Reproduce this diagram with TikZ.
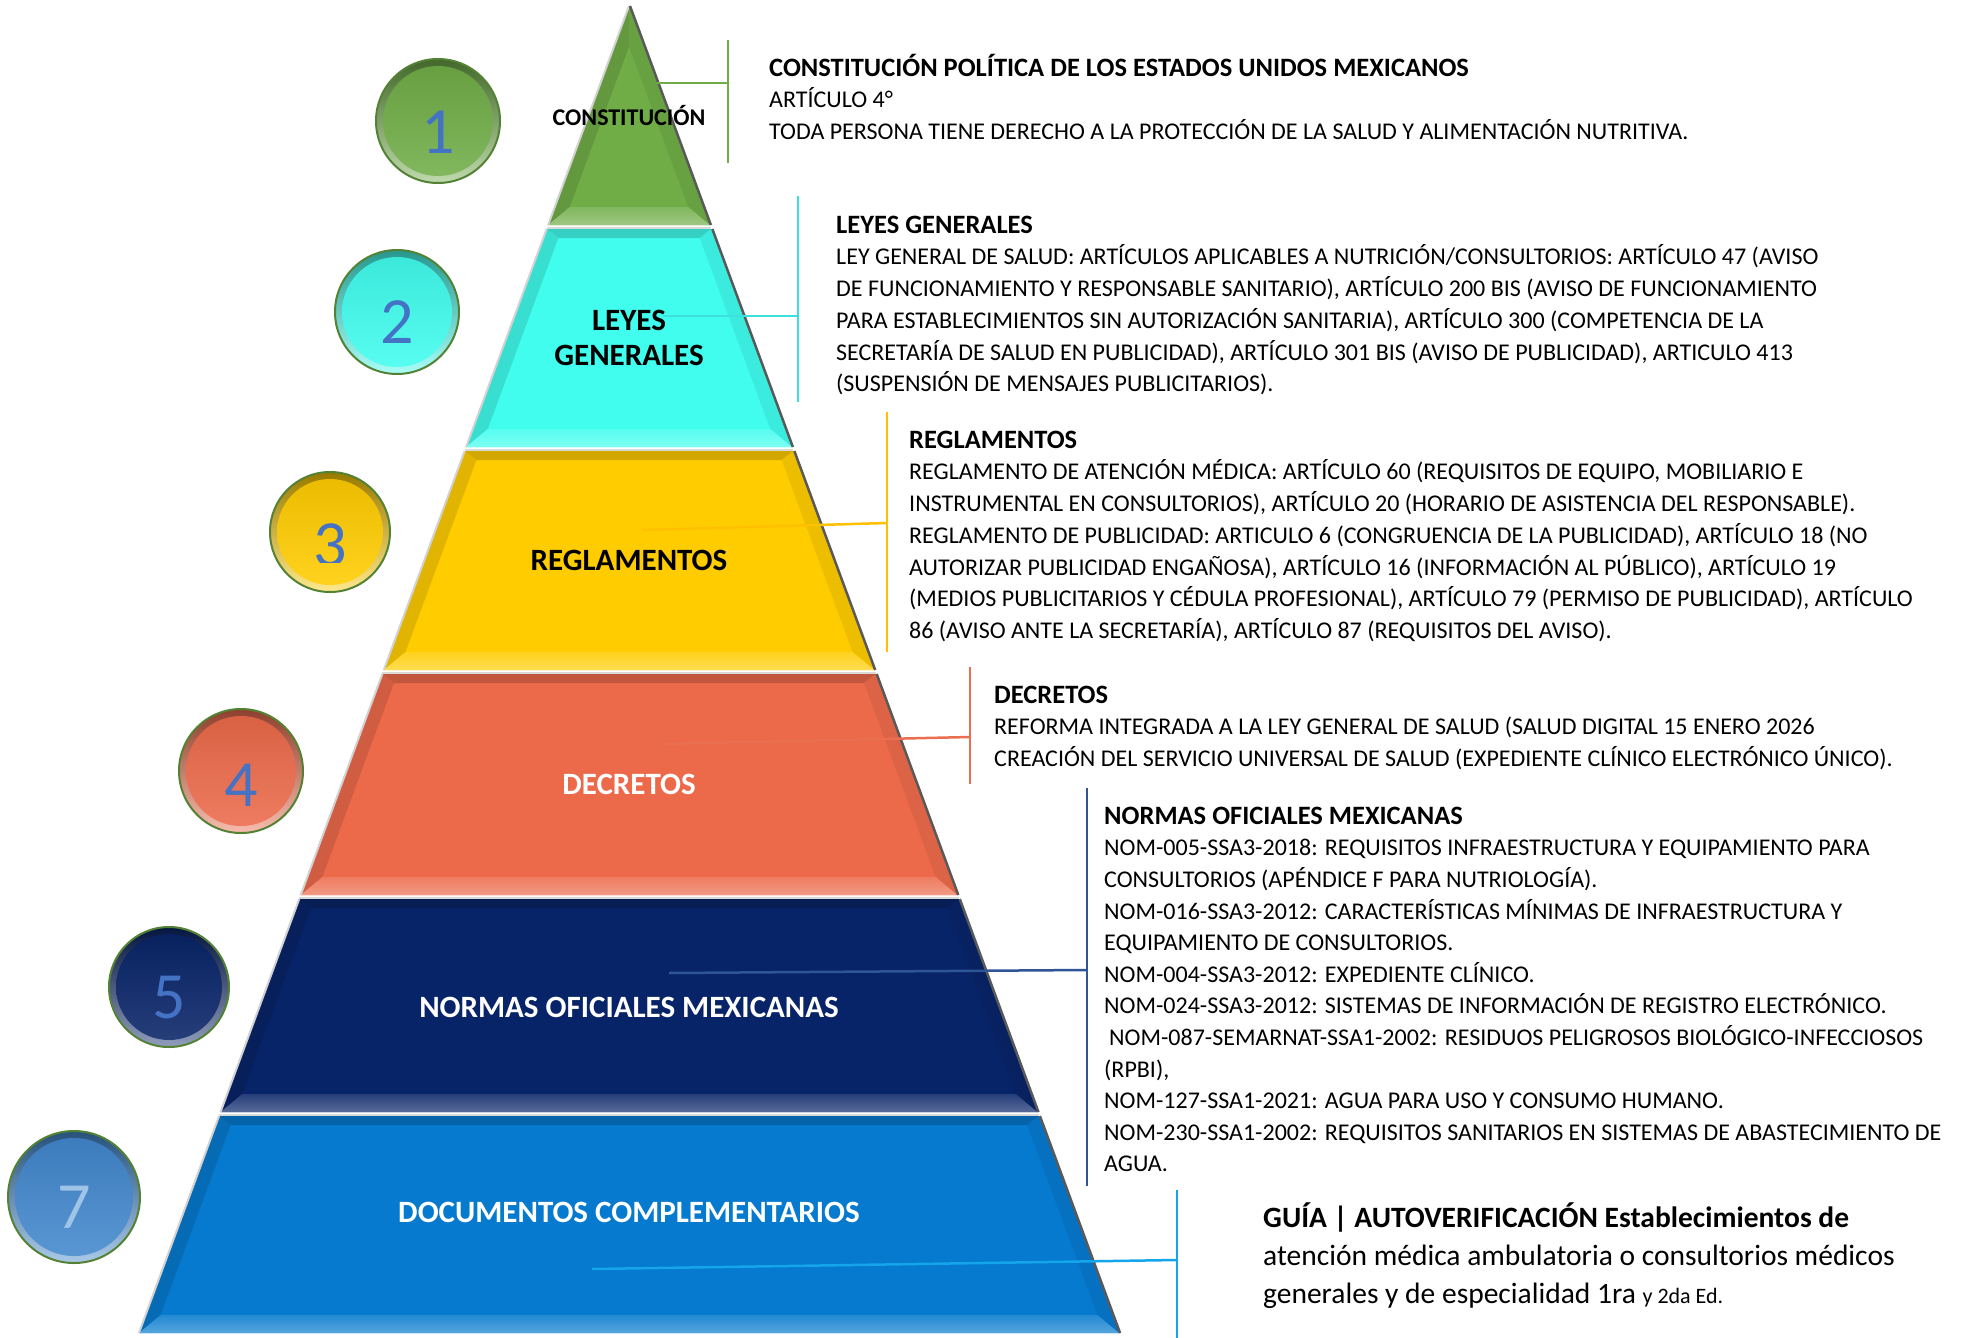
\documentclass[tikz,border=0pt]{standalone}
\usepackage{fontspec}
\setmainfont{Carlito}
\definecolor{cgreen}{RGB}{112,173,71}
\definecolor{ccyan}{RGB}{64,253,238}
\definecolor{cyellow}{RGB}{255,204,0}
\definecolor{corange}{RGB}{236,106,74}
\definecolor{cnavy}{RGB}{8,36,104}
\definecolor{cblue}{RGB}{6,122,206}
\definecolor{cblueball}{RGB}{66,135,205}
\definecolor{numblue}{RGB}{68,114,196}
\definecolor{numlight}{RGB}{160,195,232}
\definecolor{rimgreen}{RGB}{84,130,53}
\definecolor{lgreen}{RGB}{112,173,71}
\definecolor{lcyan}{RGB}{60,225,222}
\definecolor{lyellow}{RGB}{255,192,0}
\definecolor{lorange}{RGB}{234,110,80}
\definecolor{lnavy}{RGB}{47,85,151}
\definecolor{lblue}{RGB}{20,165,235}
\newcommand{\blocktitle}[1]{{\fontsize{26.5}{31.7}\selectfont\bfseries #1}}
\begin{document}
\begin{tikzpicture}[x=1pt,y=-1pt,
  bodytext/.style={font=\fontsize{24}{31.7}\selectfont, align=left, anchor=north west, inner sep=0pt},
  lbl/.style={font=\bfseries\fontsize{31}{35}\selectfont, inner sep=0pt, anchor=base},
  num/.style={font=\fontsize{66}{66}\selectfont, inner sep=0pt, anchor=base, text=numblue},
  conn/.style={line width=2.5pt}]
\useasboundingbox (0,0) rectangle (1968,1338);
\fill[white] (0,0) rectangle (1968,1338);

% ---------- pyramid layers ----------
\foreach \ya/\yb/\col in {6/225/cgreen, 229/447/ccyan, 451/670/cyellow, 674/895/corange, 899/1112/cnavy, 1116/1333/cblue}{
  \pgfmathsetmacro\hA{0.3693*(\ya-6)}
  \pgfmathsetmacro\hB{0.3693*(\yb-6)}
  \pgfmathsetmacro\yi{max(\ya+9,47)}
  \pgfmathsetmacro\yj{\yb-18}
  \pgfmathsetmacro\hI{max(0.3693*(\yi-6)-15,0)}
  \pgfmathsetmacro\hJ{0.3693*(\yj-6)-15}
  \fill[\col] (629-\hA,\ya) -- (629+\hA,\ya) -- (629+\hB,\yb) -- (629-\hB,\yb) -- cycle;
  \fill[\col!82!black] (629-\hA,\ya) -- (629+\hA,\ya) -- (629+\hI,\yi) -- (629-\hI,\yi) -- cycle;
  \fill[\col!88!black] (629-\hA,\ya) -- (629-\hI,\yi) -- (629-\hJ,\yj) -- (629-\hB,\yb) -- cycle;
  \fill[\col!93!black] (629+\hA,\ya) -- (629+\hI,\yi) -- (629+\hJ,\yj) -- (629+\hB,\yb) -- cycle;
  \shade[top color=\col!88!white, bottom color=\col!68!white] (629-\hJ,\yj) -- (629+\hJ,\yj) -- (629+\hB,\yb) -- (629-\hB,\yb) -- cycle;
  \draw[gray!35, line width=2pt] (629-\hA,\ya) -- (629-\hB,\yb);
  \draw[black!65, line width=2.5pt] (629+\hA+1,\ya) -- (629+\hB+1,\yb);
  \draw[gray!30, line width=1.5pt] (629-\hA,\ya-1) -- (629+\hA,\ya-1);
}

% ---------- numbered discs ----------
\foreach \cx/\cy/\r/\col in {438/121/62/cgreen, 397/312/62/ccyan, 330/532/60/cyellow, 241/771/62/corange, 169/987/60/cnavy, 74/1197/66/cblueball}{
  \shade[top color=\col!60!black, bottom color=\col!45!white] (\cx,\cy) circle[radius=\r];
  \shade[top color=\col!92!black, bottom color=\col!88!white] (\cx,\cy) circle[radius=\r-7];
  \draw[rimgreen, line width=2pt] (\cx,\cy) circle[radius=\r];
}
\node[num] (n1) at (438,153) {1};
\node[num] (n2) at (397,343) {2};
\begin{scope}
  \clip (250,440) rectangle (420,562);
  \node[num] (n3) at (330,566) {3};
\end{scope}
\node[num] (n4) at (241,806) {4};
\node[num] (n5) at (169,1018) {5};
\node[num, text=numlight] (n7) at (74,1228) {7};

% ---------- connectors ----------
\coordinate (g0) at (657,83);   \coordinate (g1) at (728,83);
\coordinate (g2) at (728,40);   \coordinate (g3) at (728,163);
\coordinate (c0) at (663,316);  \coordinate (c1) at (798,316);
\coordinate (c2) at (798,196);  \coordinate (c3) at (798,402);
\coordinate (y0) at (643,530);  \coordinate (y1) at (887,523);
\coordinate (y2) at (887,412);  \coordinate (y3) at (887,652);
\coordinate (o0) at (663,744);  \coordinate (o1) at (970,737);
\coordinate (o2) at (970,667);  \coordinate (o3) at (970,784);
\coordinate (v0) at (669,973);  \coordinate (v1) at (1087,970);
\coordinate (v2) at (1087,788); \coordinate (v3) at (1087,1186);
\coordinate (b0) at (592,1269); \coordinate (b1) at (1177,1260);
\coordinate (b2) at (1177,1190);\coordinate (b3) at (1177,1338);
\draw[conn, lgreen] (g0) -- (g1); \draw[conn, lgreen] (g2) -- (g3);
\draw[conn, lcyan] (c0) -- (c1); \draw[conn, lcyan] (c2) -- (c3);
\draw[conn, lyellow] (y0) -- (y1); \draw[conn, lyellow] (y2) -- (y3);
\draw[conn, lorange] (o0) -- (o1); \draw[conn, lorange] (o2) -- (o3);
\draw[conn, lnavy] (v0) -- (v1); \draw[conn, lnavy] (v2) -- (v3);
\draw[conn, lblue] (b0) -- (b1); \draw[conn, lblue] (b2) -- (b3);

% ---------- layer labels ----------
\node[lbl, font=\bfseries\fontsize{24}{28}\selectfont] (l1) at (629,125) {CONSTITUCIÓN};
\node[lbl] (l2a) at (629,330) {LEYES};
\node[lbl] (l2b) at (629,365) {GENERALES};
\node[lbl] (l3) at (629,570) {REGLAMENTOS};
\node[lbl, text=white] (l4) at (629,794) {DECRETOS};
\node[lbl, text=white] (l5) at (629,1017) {NORMAS OFICIALES MEXICANAS};
\node[lbl, text=white] (l6) at (629,1222) {DOCUMENTOS COMPLEMENTARIOS};

% ---------- text blocks ----------
\node[bodytext] (t1) at (769,52) {\rule{0pt}{24pt}\blocktitle{CONSTITUCIÓN POLÍTICA DE LOS ESTADOS UNIDOS MEXICANOS}\\
ARTÍCULO 4°\\
TODA PERSONA TIENE DERECHO A LA PROTECCIÓN DE LA SALUD Y ALIMENTACIÓN NUTRITIVA.};

\node[bodytext] (t2) at (836,209) {\rule{0pt}{24pt}\blocktitle{LEYES GENERALES}\\
LEY GENERAL DE SALUD: ARTÍCULOS APLICABLES A NUTRICIÓN/CONSULTORIOS: ARTÍCULO 47 (AVISO\\
DE FUNCIONAMIENTO Y RESPONSABLE SANITARIO), ARTÍCULO 200 BIS (AVISO DE FUNCIONAMIENTO\\
PARA ESTABLECIMIENTOS SIN AUTORIZACIÓN SANITARIA), ARTÍCULO 300 (COMPETENCIA DE LA\\
SECRETARÍA DE SALUD EN PUBLICIDAD), ARTÍCULO 301 BIS (AVISO DE PUBLICIDAD), ARTICULO 413\\
(SUSPENSIÓN DE MENSAJES PUBLICITARIOS).};

\node[bodytext] (t3) at (909,424) {\rule{0pt}{24pt}\blocktitle{REGLAMENTOS}\\
REGLAMENTO DE ATENCIÓN MÉDICA: ARTÍCULO 60 (REQUISITOS DE EQUIPO, MOBILIARIO E\\
INSTRUMENTAL EN CONSULTORIOS), ARTÍCULO 20 (HORARIO DE ASISTENCIA DEL RESPONSABLE).\\
REGLAMENTO DE PUBLICIDAD: ARTICULO 6 (CONGRUENCIA DE LA PUBLICIDAD), ARTÍCULO 18 (NO\\
AUTORIZAR PUBLICIDAD ENGAÑOSA), ARTÍCULO 16 (INFORMACIÓN AL PÚBLICO), ARTÍCULO 19\\
(MEDIOS PUBLICITARIOS Y CÉDULA PROFESIONAL), ARTÍCULO 79 (PERMISO DE PUBLICIDAD), ARTÍCULO\\
86 (AVISO ANTE LA SECRETARÍA), ARTÍCULO 87 (REQUISITOS DEL AVISO).};

\node[bodytext] (t4) at (994,679) {\rule{0pt}{24pt}\blocktitle{DECRETOS}\\
REFORMA INTEGRADA A LA LEY GENERAL DE SALUD (SALUD DIGITAL 15 ENERO 2026\\
CREACIÓN DEL SERVICIO UNIVERSAL DE SALUD (EXPEDIENTE CLÍNICO ELECTRÓNICO ÚNICO).};

\node[bodytext, font=\fontsize{24}{31.6}\selectfont] (t5) at (1104,800) {\rule{0pt}{24pt}\blocktitle{NORMAS OFICIALES MEXICANAS}\\
NOM-005-SSA3-2018: REQUISITOS INFRAESTRUCTURA Y EQUIPAMIENTO PARA\\
CONSULTORIOS (APÉNDICE F PARA NUTRIOLOGÍA).\\
NOM-016-SSA3-2012: CARACTERÍSTICAS MÍNIMAS DE INFRAESTRUCTURA Y\\
EQUIPAMIENTO DE CONSULTORIOS.\\
NOM-004-SSA3-2012: EXPEDIENTE CLÍNICO.\\
NOM-024-SSA3-2012: SISTEMAS DE INFORMACIÓN DE REGISTRO ELECTRÓNICO.\\
\hspace{5pt}NOM-087-SEMARNAT-SSA1-2002: RESIDUOS PELIGROSOS BIOLÓGICO-INFECCIOSOS\\
(RPBI),\\
NOM-127-SSA1-2021: AGUA PARA USO Y CONSUMO HUMANO.\\
NOM-230-SSA1-2002: REQUISITOS SANITARIOS EN SISTEMAS DE ABASTECIMIENTO DE\\
AGUA.};

\node[bodytext, font=\fontsize{29.5}{38}\selectfont] (t6) at (1263,1197) {\rule{0pt}{30pt}\textbf{GUÍA | AUTOVERIFICACIÓN Establecimientos de}\\
atención médica ambulatoria o consultorios médicos\\
generales y de especialidad 1ra {\fontsize{22}{22}\selectfont y 2da Ed.}};
\end{tikzpicture}
\end{document}
